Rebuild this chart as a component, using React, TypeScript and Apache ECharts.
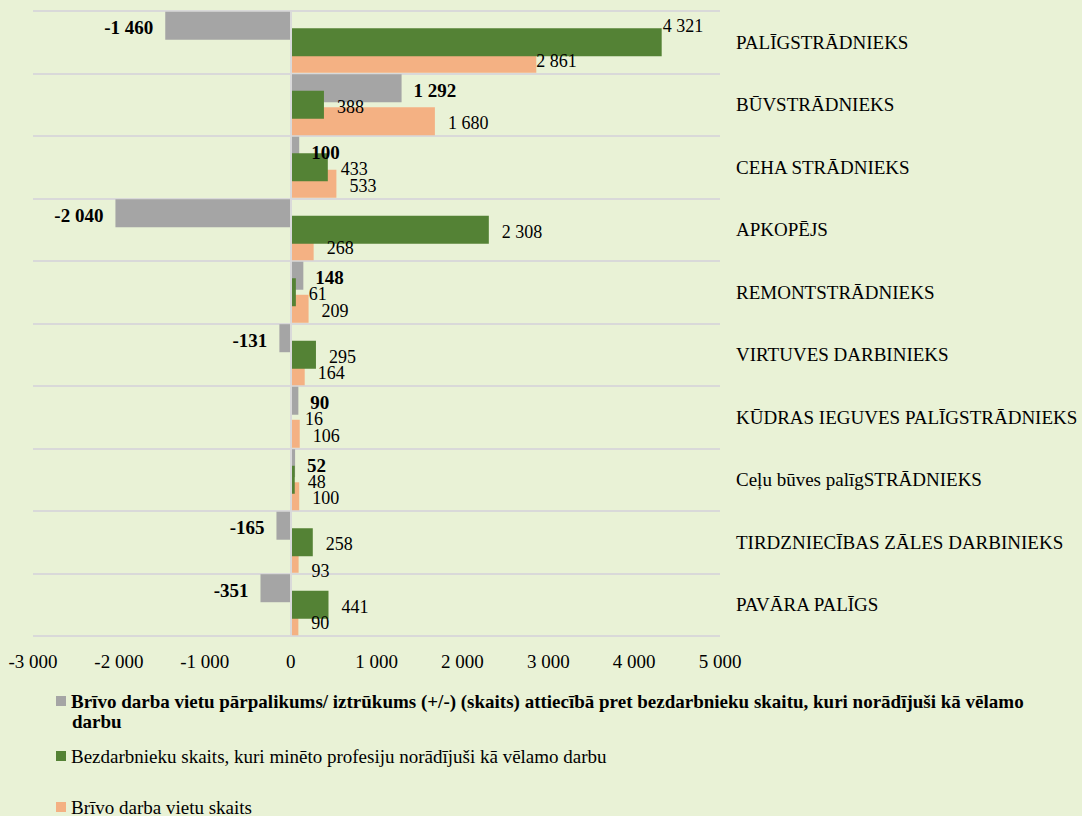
import React, { useEffect, useRef } from "react";
import * as echarts from "echarts";

const categories = [
  "PALĪGSTRĀDNIEKS",
  "BŪVSTRĀDNIEKS",
  "CEHA STRĀDNIEKS",
  "APKOPĒJS",
  "REMONTSTRĀDNIEKS",
  "VIRTUVES DARBINIEKS",
  "KŪDRAS IEGUVES PALĪGSTRĀDNIEKS",
  "Ceļu būves palīgSTRĀDNIEKS",
  "TIRDZNIECĪBAS ZĀLES DARBINIEKS",
  "PAVĀRA PALĪGS",
];
const surplus = [-1460, 1292, 100, -2040, 148, -131, 90, 52, -165, -351];
const unemployed = [4321, 388, 433, 2308, 61, 295, 16, 48, 258, 441];
const vacancies = [2861, 1680, 533, 268, 209, 164, 106, 100, 93, 90];

const xMin = -3000;
const xMax = 5000;
const xStep = 1000;

const seriesNames = [
  "Brīvo darba vietu pārpalikums/ iztrūkums (+/-) (skaits) attiecībā pret bezdarbnieku skaitu, kuri norādījuši kā vēlamo darbu",
  "Bezdarbnieku skaits, kuri minēto profesiju norādījuši kā vēlamo darbu",
  "Brīvo darba vietu skaits",
];
const legendFirstLine =
  "Brīvo darba vietu pārpalikums/ iztrūkums (+/-) (skaits) attiecībā pret bezdarbnieku skaitu, kuri norādījuši kā vēlamo";
const legendSecondLine = "darbu";

const COLORS = ["#A5A5A5", "#548235", "#F4B183"];
const FONT = "'Liberation Serif', 'Times New Roman', serif";

const fmt = (v: number) => {
  const s = Math.abs(Math.round(v))
    .toString()
    .replace(/\B(?=(\d{3})+(?!\d))/g, " ");
  return (v < 0 ? "-" : "") + s;
};

export default function App() {
  const ref = useRef<HTMLDivElement>(null);

  useEffect(() => {
    if (!ref.current) return;
    const chart = echarts.init(ref.current, null, { renderer: "svg" });

    const BAR_W = 28;
    const BAR_GAP = "-41%";
    const transparent = "rgba(0,0,0,0)";

    const labelBase = {
      show: true,
      position: "right",
      distance: 13,
      offset: [0, 2],
      fontFamily: FONT,
      fontSize: 18,
      color: "#000",
      formatter: (p: any) => fmt(p.value),
    };

    const grayLabelData = surplus.map((v) => ({
      value: v,
      label: { position: v < 0 ? "left" : "right" },
    }));
    const greenLabelData = unemployed.map((v, i) =>
      i === 0 ? { value: v, label: { offset: [-12, -16] } } : v
    );
    const orangeLabelData = vacancies.map((v, i) =>
      i === 0
        ? { value: v, label: { offset: [-13, 2] } }
        : i === 8
        ? { value: v, label: { offset: [0, 12] } }
        : v
    );

    const legendBase = {
      orient: "vertical",
      left: 56,
      padding: 0,
      icon: "rect",
      itemWidth: 10,
      itemHeight: 10,
      selectedMode: false,
      textStyle: { fontFamily: FONT, fontSize: 19, color: "#000", lineHeight: 20 },
    };

    const barBase = {
      type: "bar",
      barWidth: BAR_W,
      barGap: BAR_GAP,
      yAxisIndex: 0,
    };
    const labelSeriesBase = {
      type: "bar",
      barWidth: BAR_W,
      barGap: BAR_GAP,
      yAxisIndex: 1,
      silent: true,
      z: 10,
      itemStyle: { color: transparent },
    };

    chart.setOption({
      animation: false,
      backgroundColor: "#E9F2D6",
      textStyle: { fontFamily: FONT },
      grid: { left: 33, right: 362, top: 11, bottom: 180, containLabel: false },
      xAxis: {
        type: "value",
        min: xMin,
        max: xMax,
        interval: xStep,
        axisLine: { show: false },
        axisTick: { show: false },
        splitLine: { show: false },
        axisLabel: {
          fontFamily: FONT,
          fontSize: 19,
          color: "#000",
          margin: 16,
          formatter: (v: number) => fmt(v),
        },
      },
      yAxis: [
        {
          type: "category",
          data: categories,
          inverse: true,
          position: "right",
          axisLine: { show: false },
          axisTick: { show: false },
          axisLabel: { fontFamily: FONT, fontSize: 19, color: "#000", margin: 16 },
          splitLine: { show: true, lineStyle: { color: "#D9D9D9", width: 2 } },
        },
        {
          type: "category",
          data: categories,
          inverse: true,
          show: false,
        },
      ],
      legend: [
        {
          ...legendBase,
          top: 691,
          data: [{ name: seriesNames[0], textStyle: { fontWeight: "bold" } }],
          formatter: () => legendFirstLine,
        },
        { ...legendBase, top: 746, data: [seriesNames[1]] },
        { ...legendBase, top: 797, data: [seriesNames[2]] },
      ],
      graphic: [
        {
          type: "text",
          left: 72,
          top: 712,
          style: {
            text: legendSecondLine,
            fontFamily: FONT,
            fontSize: 19,
            fontWeight: "bold",
            fill: "#000",
          },
        },
      ],
      series: [
        {
          ...barBase,
          name: seriesNames[0],
          data: surplus,
          itemStyle: { color: COLORS[0] },
          z: 2,
          markLine: {
            silent: true,
            symbol: ["none", "none"],
            label: { show: false },
            lineStyle: { color: "#D9D9D9", width: 2, type: "solid" },
            data: [{ xAxis: 0 }],
          },
        },
        {
          ...barBase,
          name: seriesNames[1],
          data: unemployed,
          itemStyle: { color: COLORS[1] },
          z: 4,
        },
        {
          ...barBase,
          name: seriesNames[2],
          data: vacancies,
          itemStyle: { color: COLORS[2] },
          z: 3,
        },
        {
          ...labelSeriesBase,
          name: "label-surplus",
          data: grayLabelData,
          label: {
            ...labelBase,
            distance: 12,
            fontSize: 19,
            fontWeight: "bold",
          },
        },
        {
          ...labelSeriesBase,
          name: "label-unemployed",
          data: greenLabelData,
          label: { ...labelBase },
        },
        {
          ...labelSeriesBase,
          name: "label-vacancies",
          data: orangeLabelData,
          label: { ...labelBase },
        },
      ],
    });

    return () => chart.dispose();
  }, []);

  return (
    <div
      ref={ref}
      style={{ position: "fixed", left: 0, top: 0, width: 1082, height: 816 }}
    />
  );
}
